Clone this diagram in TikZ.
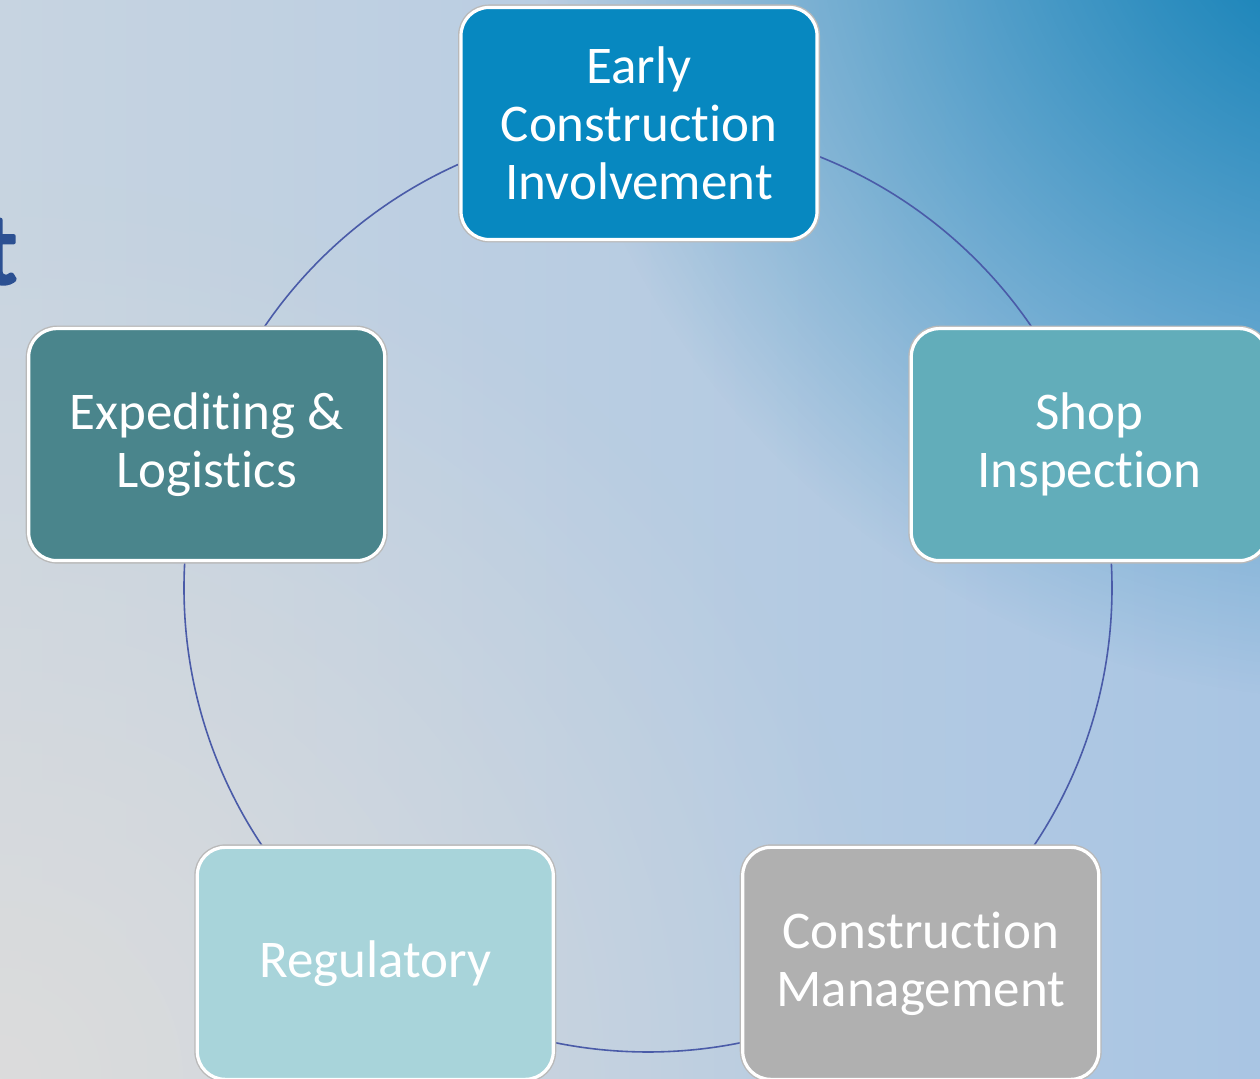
\documentclass[tikz,border=0pt]{standalone}
\usepackage{fontspec}
\setmainfont{Carlito}[Ligatures=NoCommon,AutoFakeBold=4]
\usetikzlibrary{fadings}
\definecolor{bgleft}{HTML}{C7D4E1}
\definecolor{bgblue}{HTML}{A9C5E3}
\definecolor{bggray}{HTML}{DCDCDC}
\definecolor{cornerblue}{HTML}{0079B2}
\definecolor{ringblue}{HTML}{4A5BA8}
\definecolor{titleblue}{HTML}{2C5092}
\definecolor{earlycol}{HTML}{0788C0}
\definecolor{shopcol}{HTML}{62ADBA}
\definecolor{cmcol}{HTML}{B0B0B0}
\definecolor{regcol}{HTML}{A8D4DA}
\definecolor{expcol}{HTML}{4A858C}
\tikzfading[name=cornerfade,inner color=transparent!0,outer color=transparent!100]
\begin{document}
\begin{tikzpicture}[x=.5pt,y=.5pt,line join=round,
font=\fontsize{26.5}{29}\selectfont,
box/.style={rounded corners=14pt,minimum width=178pt,minimum height=116pt,
  align=center,text=white,draw=white,line width=1.6pt,
  preaction={draw=gray!55,line width=3pt}},
ring/.style={draw=ringblue,line width=.8pt}]
\useasboundingbox (0,0) rectangle (1260,1079);
% background
\shade[left color=bgleft,right color=bgblue] (0,0) rectangle (1260,1079);
\fill[bggray,path fading=cornerfade] (0,0) circle (900);
\fill[cornerblue,path fading=cornerfade] (1360,1200) circle (820);
\path (648,491) coordinate (hub);
\node[anchor=base east,inner sep=0,text=titleblue,font=\bfseries\fontsize{50}{60}\selectfont] (title) at (17,796) {t};
% cycle
\draw[ring] (hub) circle (464);
\node[box,fill=earlycol] (early) at (639,955.5) {Early\\Construction\\Involvement};
\foreach\n/\a/\c/\t in {shop/18/shopcol/{Shop\\Inspection},
  cm/-54/cmcol/{Construction\\Management},
  reg/-126/regcol/{Regulatory},
  exp/162/expcol/{Expediting \&\\Logistics}}
\node[box,fill=\c] (\n) at ([shift={(\a:464)}]hub) {\t};
\end{tikzpicture}
\end{document}
